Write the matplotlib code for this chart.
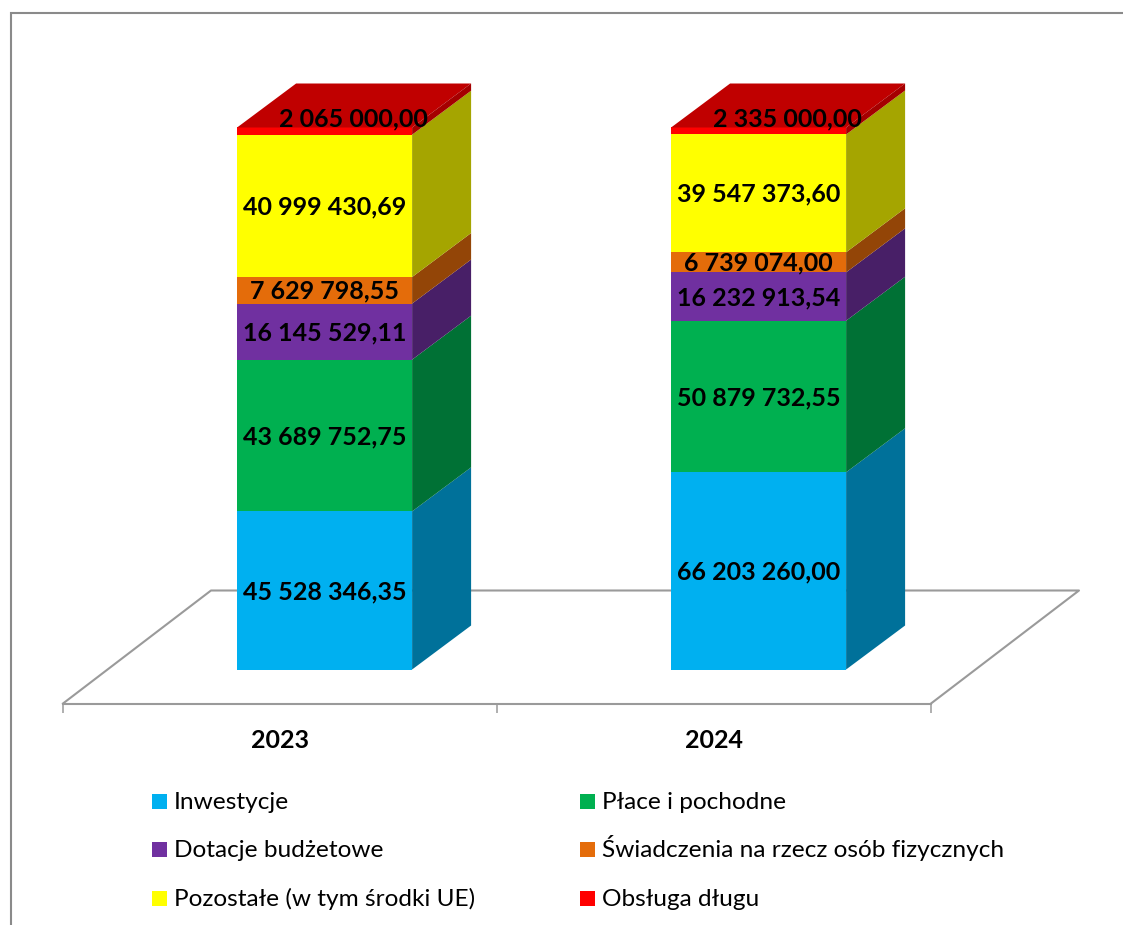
import matplotlib
matplotlib.use("Agg")
import matplotlib.pyplot as plt
import numpy as np
from matplotlib.patches import Polygon, Patch, Rectangle
from matplotlib.lines import Line2D
from matplotlib.legend_handler import HandlerPatch
from matplotlib.transforms import Affine2D

W, H = 1123, 925
plt.rcParams['font.family'] = ['Lato', 'DejaVu Sans']

years = ['2023', '2024']
inwestycje = [45528346.35, 66203260.00]
place = [43689752.75, 50879732.55]
dotacje = [16145529.11, 16232913.54]
swiadczenia = [7629798.55, 6739074.00]
pozostale = [40999430.69, 39547373.60]
obsluga = [2065000.00, 2335000.00]

series = [inwestycje, place, dotacje, swiadczenia, pozostale, obsluga]
names = ['Inwestycje', 'Płace i pochodne', 'Dotacje budżetowe',
         'Świadczenia na rzecz osób fizycznych', 'Pozostałe (w tym środki UE)', 'Obsługa długu']
front = ['#00B0F0', '#00B050', '#7030A0', '#E46C0A', '#FFFF00', '#FF0000']
side = ['#00719A', '#007135', '#481F67', '#934507', '#A5A500', '#A50000']
top_color = '#C00000'
grey = '#9A9A9A'

fig = plt.figure(figsize=(W / 100, H / 100), dpi=100, facecolor='white')

def px_axes(l, t, r, b):
    return [l / W, 1 - b / H, (r - l) / W, (b - t) / H]

# Frame of the chart area
fig.add_artist(Line2D([11 / W, 11 / W, 1], [0, 1 - 13 / H, 1 - 13 / H],
                      color='#8A8A8A', lw=1.5, solid_joinstyle='miter'))

ax = fig.add_axes(px_axes(63, 161.5, 931, 703.5))
ax.set_xlim(-0.5, 1.5)
ax.set_ylim(0, 100)
ax.patch.set_visible(False)
for s in ['top', 'left', 'right']:
    ax.spines[s].set_visible(False)
ax.spines['bottom'].set_color(grey)
ax.spines['bottom'].set_linewidth(1.5)
ax.set_yticks([])
ax.set_xticks([0, 1])
ax.set_xticklabels(years, fontweight='bold', fontsize=18, color='black')
ax.tick_params(axis='x', which='major', length=0, pad=18.2)
ax.set_xticks([-0.5, 0.5, 1.5], minor=True)
ax.tick_params(axis='x', which='minor', length=6.5, width=1.1, color=grey)

def shift(dx, dy):
    """Data transform moved by dx, dy pixels into the depth of the chart."""
    return ax.transData + Affine2D().translate(dx, dy)

# Floor
floor_dx, floor_dy = 148, 113
x0, x1 = ax.get_xlim()
fr = ax.transData
pts = [fr.transform((x0, 0)), fr.transform((x0, 0)) + (floor_dx, floor_dy),
       fr.transform((x1, 0)) + (floor_dx, floor_dy), fr.transform((x1, 0))]
ax.add_line(Line2D([p[0] for p in pts], [p[1] for p in pts], transform=None,
                   color=grey, lw=1.5, clip_on=False, zorder=1))

# Stacked bars
bar_dx, bar_dy = 44.6, 34
depth_dx, depth_dy = 59, 44
bar_w = 175 / 434
front_tr = shift(bar_dx, bar_dy)
back_tr = shift(bar_dx + depth_dx, bar_dy + depth_dy)
totals = np.sum(series, axis=0)

bottoms = np.zeros(2)
for i, vals in enumerate(series):
    pct = np.array(vals) / totals * 100
    ax.bar(range(2), pct, bar_w, bottom=bottoms, color=front[i], transform=front_tr,
           clip_on=False, zorder=3, linewidth=0)
    for j in range(2):
        xr = j + bar_w / 2
        a = front_tr.transform([(xr, bottoms[j]), (xr, bottoms[j] + pct[j])])
        b = back_tr.transform([(xr, bottoms[j] + pct[j]), (xr, bottoms[j])])
        if i == len(series) - 1:
            xl = j - bar_w / 2
            c = front_tr.transform([(xl, 100), (xr, 100)])
            d = back_tr.transform([(xr, 100), (xl, 100)])
            ax.add_patch(Polygon(np.vstack([c, d]), closed=True, transform=None, facecolor=top_color,
                                 edgecolor='none', clip_on=False, zorder=3))
        ax.add_patch(Polygon(np.vstack([a, b]), closed=True, transform=None, facecolor=side[i],
                             edgecolor='none', clip_on=False, zorder=3.1))
        ex, ey = (29, 14) if i == len(series) - 1 else (0, 1)
        label = f"{vals[j]:,.2f}".replace(',', ' ').replace('.', ',')
        ax.text(j, bottoms[j] + pct[j] / 2, label, transform=shift(bar_dx + ex, bar_dy + ey),
                ha='center', va='center_baseline', fontsize=18, fontweight='bold', color='black',
                zorder=5, clip_on=False)
    bottoms = bottoms + pct

# Legend (two columns, filled column-first)
def square(legend, orig_handle, xdescent, ydescent, width, height, fontsize):
    return Rectangle((0, 0), width, width)

order = [0, 2, 4, 1, 3, 5]
handles = [Patch(facecolor=front[k], edgecolor='none', label=names[k]) for k in order]
fig.legend(handles=handles, loc='upper left', bbox_to_anchor=(152 / W, 1 - 782 / H), ncol=2,
           frameon=False, fontsize=17.6, handlelength=0.61, handleheight=2.0, handletextpad=0.28,
           labelspacing=0.44, columnspacing=4.3, borderpad=0, borderaxespad=0, labelcolor='black',
           handler_map={Patch: HandlerPatch(patch_func=square)})

fig.savefig('out.png', dpi=100, facecolor='white')
